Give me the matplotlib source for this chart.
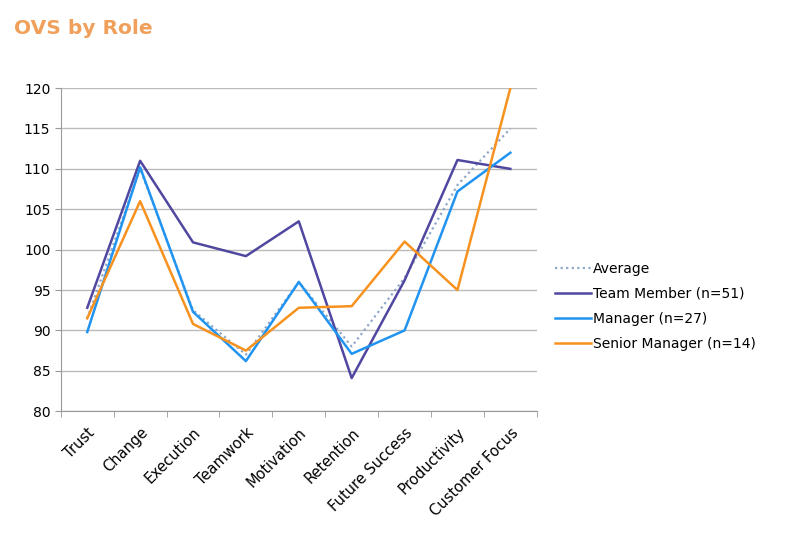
import numpy as np
import matplotlib.pyplot as plt

categories = ["Trust", "Change", "Execution", "Teamwork", "Motivation",
              "Retention", "Future Success", "Productivity", "Customer Focus"]
average = [91.5, 110.0, 92.5, 87.0, 96.0, 88.0, 96.5, 108.0, 115.0]
team_member = [92.8, 111.0, 100.9, 99.2, 103.5, 84.1, 96.2, 111.1, 110.0]
manager = [89.8, 110.2, 92.3, 86.2, 96.0, 87.1, 90.0, 107.2, 112.0]
senior_manager = [91.5, 106.0, 90.8, 87.5, 92.8, 93.0, 101.0, 95.0, 120.0]

plt.rcParams["font.family"] = ["DejaVu Sans"]

fig = plt.figure(figsize=(8, 5.34), dpi=100)
ax = fig.add_axes([0.076, 0.230, 0.595, 0.605])

x = np.arange(len(categories))
ax.plot(x, average, color="#8fa8c8", lw=1.6, ls=(0, (1, 1.5)), label="Average")
ax.plot(x, team_member, color="#5048a0", lw=1.8, label="Team Member (n=51)")
ax.plot(x, manager, color="#2094f0", lw=1.8, label="Manager (n=27)")
ax.plot(x, senior_manager, color="#f7921e", lw=1.8, label="Senior Manager (n=14)")

ax.set_xlim(-0.5, len(categories) - 0.5)
ax.set_ylim(80, 120)
ax.set_yticks(range(80, 121, 5))
ax.set_xticks(x)
ax.set_xticklabels(categories, rotation=45, ha="right", rotation_mode="anchor", fontsize=10.5)
ax.set_xticks(np.arange(-0.5, len(categories), 1), minor=True)
ax.tick_params(axis="x", which="major", length=0, pad=10)
ax.tick_params(axis="x", which="minor", length=4, color="#999999")
ax.tick_params(axis="y", length=4, color="#999999", labelsize=10)
ax.grid(axis="y", color="#bbbbbb", lw=1)
ax.set_axisbelow(True)
for s in ["top", "right"]:
    ax.spines[s].set_visible(False)
for s in ["left", "bottom"]:
    ax.spines[s].set_color("#999999")

ax.legend(loc="center left", bbox_to_anchor=(1.012, 0.325), frameon=False,
          handlelength=2.6, handletextpad=0.1, labelspacing=0.8, fontsize=10)

fig.text(0.018, 0.965, "OVS by Role", color="#f0a05a", fontsize=14.5,
         fontweight="bold", va="top")

fig.savefig("out.png", dpi=100)
